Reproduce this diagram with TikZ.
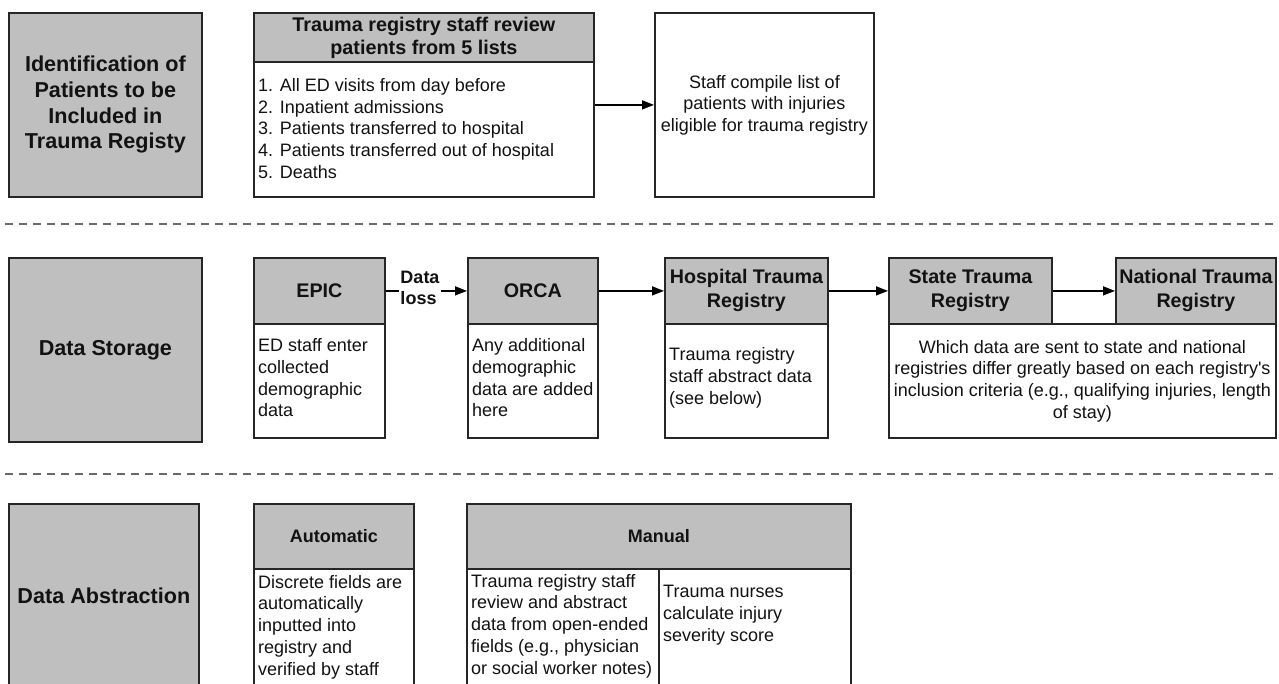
\documentclass[tikz,border=0pt]{standalone}
\usepackage{fontspec}
\setmainfont{Liberation Sans}
\usetikzlibrary{arrows.meta}
\definecolor{hg}{RGB}{191,191,191}
\definecolor{lc}{RGB}{38,38,38}
\definecolor{tc}{RGB}{18,18,18}
\definecolor{dc}{RGB}{105,105,105}
\begin{document}
\begin{tikzpicture}[x=1pt,y=-1pt,
  box/.style={draw=lc, line width=1.8pt, inner sep=0pt, anchor=north west, text=tc},
  hbox/.style={box, fill=hg},
  wbox/.style={box, fill=white},
  lbl/.style={font=\bfseries\fontsize{21.6}{25.7}\selectfont, align=center},
  hd/.style={font=\bfseries\fontsize{19.7}{24}\selectfont, align=center},
  hds/.style={font=\bfseries\fontsize{18}{21}\selectfont, align=center},
  txt/.style={font=\fontsize{18}{21.7}\selectfont, text=tc, inner sep=5pt, align=left, anchor=west},
  arr/.style={line width=1.5pt, draw=black, -{Triangle[length=12pt,width=9pt]}},
  seg/.style={line width=1.5pt, draw=black},
  sepline/.style={draw=dc, line width=1.4pt, dash pattern=on 8pt off 6pt}]

\useasboundingbox (0,0) rectangle (1279,683);
\clip (0,0) rectangle (1279,683);

% ---------- Row 1 ----------
\node[hbox, lbl, minimum width=193, minimum height=184] (ident) at (8,12)
  {Identification of\\Patients to be\\Included in\\Trauma Registy};
\node[hbox, font=\bfseries\fontsize{19.8}{23}\selectfont, align=center,
  minimum width=340, minimum height=49] (revh) at (253,12)
  {Trauma registry staff review\\patients from 5 lists};
\node[wbox, minimum width=340, minimum height=135] (revb) at (253,61) {};
\node[txt] (revt) at (253,128.5)
  {1. All ED visits from day before\\2. Inpatient admissions\\3. Patients transferred to hospital\\4. Patients transferred out of hospital\\5. Deaths};
\node[wbox, font=\fontsize{18}{21.5}\selectfont, align=center,
  minimum width=219, minimum height=184] (comp) at (654,12)
  {Staff compile list of\\patients with injuries\\eligible for trauma registry};
\draw[arr] (revb.east |- comp.west) -- (comp.west);

\coordinate (s1a) at (5,224);
\coordinate (s1b) at (1279,224);
\draw[sepline] (s1a) -- (s1b);

% ---------- Row 2 ----------
\node[hbox, lbl, minimum width=193, minimum height=184] (stor) at (8,257) {Data Storage};

\node[hbox, hd, minimum width=131, minimum height=66] (epich) at (253,257) {EPIC};
\node[wbox, minimum width=131, minimum height=114] (epicb) at (253,323) {};
\node[txt] (epict) at (253,378) {ED staff enter\\collected\\demographic\\data};

\node[hbox, hd, minimum width=130, minimum height=66] (orcah) at (467,257) {ORCA};
\node[wbox, minimum width=130, minimum height=114] (orcab) at (467,323) {};
\node[txt] (orcat) at (467,378) {Any additional\\demographic\\data are added\\here};

\node[hbox, hd, minimum width=163, minimum height=66] (hosph) at (664,257) {Hospital Trauma\\Registry};
\node[wbox, minimum width=163, minimum height=114] (hospb) at (664,323) {};
\node[txt] (hospt) at (664,378) {Trauma registry\\staff abstract data\\(see below)};

\node[hbox, hd, minimum width=163, minimum height=66] (stateh) at (888,257) {State Trauma\\Registry};
\node[hbox, hd, minimum width=160, minimum height=66] (nath) at (1115,257) {National Trauma\\Registry};
\node[wbox, font=\fontsize{18}{21.7}\selectfont, align=center, inner xsep=1pt,
  minimum width=387, minimum height=114] (regb) at (888,323)
  {Which data are sent to state and national\\registries differ greatly based on each registry\textquotesingle s\\inclusion criteria (e.g., qualifying injuries, length\\of stay)};

\node[hds, align=left, inner sep=1pt, text=tc] (dl) at (420,288) {Data\\loss};
\draw[seg] (epich.east) -- (dl.west |- epich.east);
\draw[arr] (dl.east |- orcah.west) -- (orcah.west);
\draw[arr] (orcah.east) -- (hosph.west);
\draw[arr] (hosph.east) -- (stateh.west);
\draw[arr] (stateh.east) -- (nath.west);

\coordinate (s2a) at (5,474);
\coordinate (s2b) at (1279,474);
\draw[sepline] (s2a) -- (s2b);

% ---------- Row 3 ----------
\node[hbox, lbl, minimum width=190, minimum height=184] (abst) at (8,503) {Data Abstraction};

\node[hbox, hds, minimum width=160, minimum height=65] (autoh) at (253,503) {Automatic};
\node[wbox, minimum width=160, minimum height=119] (autob) at (253,568) {};
\node[txt] (autot) at (253,627)
  {Discrete fields are\\automatically\\inputted into\\registry and\\verified by staff};

\node[hbox, hds, minimum width=384, minimum height=65] (manh) at (466,503) {Manual};
\node[wbox, minimum width=192, minimum height=119] (manl) at (466,568) {};
\node[wbox, minimum width=192, minimum height=119] (manr) at (658,568) {};
\node[txt] (manlt) at (466,626)
  {Trauma registry staff\\review and abstract\\data from open-ended\\fields (e.g., physician\\or social worker notes)};
\node[txt] (manrt) at (658,615)
  {Trauma nurses\\calculate injury\\severity score};
\end{tikzpicture}
\end{document}
